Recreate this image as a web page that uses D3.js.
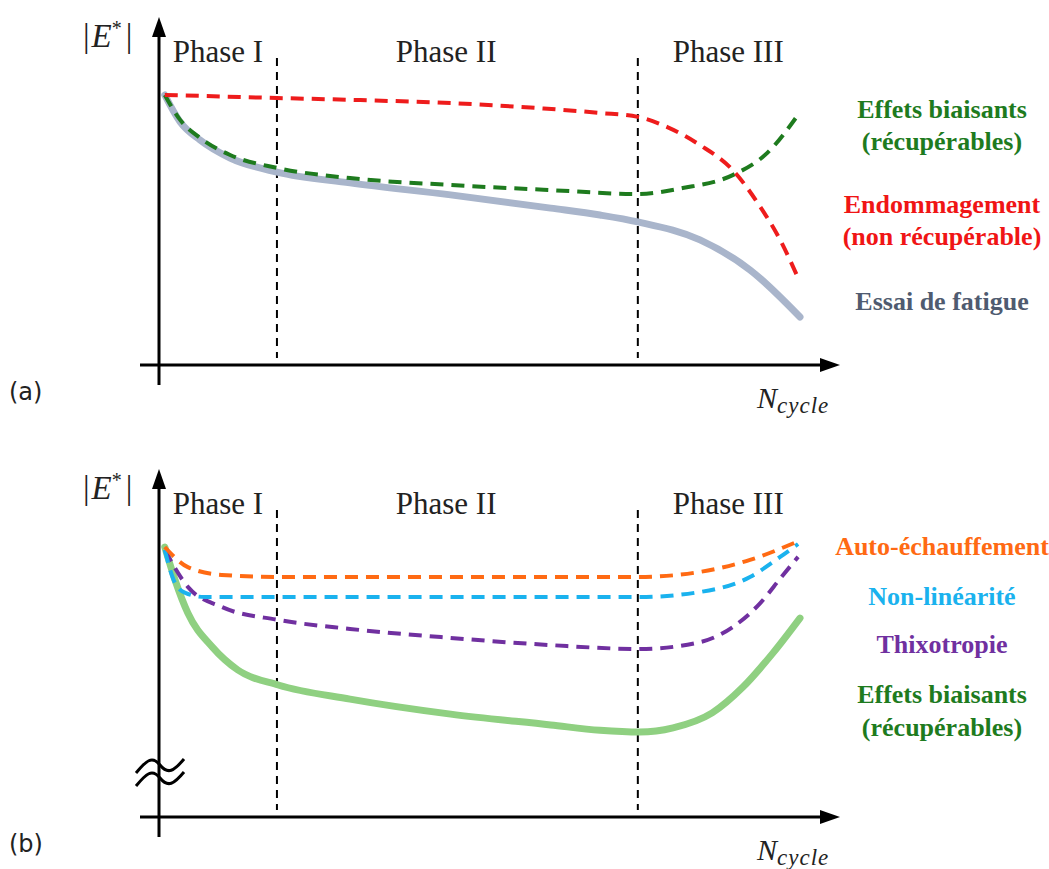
<!DOCTYPE html>
<html><head><meta charset="utf-8">
<script src="https://cdn.jsdelivr.net/npm/d3@7"></script>
<style>body{margin:0;background:#fff}svg{display:block}</style>
</head><body><svg id="c" width="1049" height="869"></svg>
<script>
// ---- data (x: normalised cycle count 0..100, y: normalised |E*| 0..100) ----
const phaseLabels = ["Phase I", "Phase II", "Phase III"];
const phaseBounds = [18.4, 74.7];
const phaseCenters = [9.2, 44.8, 88.8];

// panel (a)
const aDamageX = [0.9, 6.4, 18.4, 31.4, 45.5, 60, 68.8, 74.7, 79.3, 84.4, 89.5, 93.8, 96.9, 99.5];
const aDamageY = [90, 89.7, 89, 88.3, 87.3, 85.5, 84, 82.7, 79.3, 73.3, 65, 52.7, 41.7, 30];
const aBiasX = [0.9, 3.3, 6.4, 11.1, 18.4, 29.8, 45.5, 61.1, 74.7, 81.7, 89.5, 94.9, 100];
const aBiasY = [90, 81.7, 75.7, 70, 65.7, 62.3, 60, 58.3, 57, 59, 63.3, 70.7, 84.3];
const aFatigueX = [0.9, 3.3, 6.4, 11.1, 18.4, 29.8, 45.5, 61.1, 68.8, 74.7, 84.4, 92.2, 100];
const aFatigueY = [90, 81, 75, 69, 64.3, 60.7, 56.7, 52.3, 50, 47.7, 41.7, 31.7, 16];

// panel (b)
const bOrangeX = [0.9, 4.5, 9.8, 18.6, 74.7, 84.4, 92.2, 99.5];
const bOrangeY = [90, 83.3, 80.7, 80, 80, 81.7, 85.7, 91.7];
const bCyanX = [0.9, 2.5, 4.1, 7.2, 74.7, 84.4, 92.2, 96.9, 99.7];
const bCyanY = [89, 78, 74.7, 73.3, 73.3, 75, 80, 86.7, 91];
const bPurpleX = [0.9, 4.5, 9.8, 18.6, 29.8, 45.5, 61.1, 75, 84.4, 89.5, 93.8, 97.1, 99.7];
const bPurpleY = [89, 76.7, 70, 65.7, 62.7, 59.7, 57.3, 56, 58.3, 63.3, 71.3, 80, 86.7];
const bGreenX = [0.9, 2.5, 4.5, 8.3, 12.3, 18.6, 29.8, 45.5, 61.1, 68.8, 75, 80.2, 86.3, 91.1, 95.8, 100];
const bGreenY = [90, 79, 68, 56.7, 49, 44, 39.3, 34.3, 30.7, 28.9, 28.3, 29.7, 34.7, 43.3, 54.7, 66.3];

const aLegend = [
  {lines: ["Effets biaisants", "(récupérables)"], color: "#1e7b1e", y: [118, 150]},
  {lines: ["Endommagement", "(non récupérable)"], color: "#f01515", y: [213, 245]},
  {lines: ["Essai de fatigue"], color: "#4f5b70", y: [310]}
];
const bLegend = [
  {lines: ["Auto-échauffement"], color: "#ff6a13", y: [555]},
  {lines: ["Non-linéarité"], color: "#1ab2ee", y: [605]},
  {lines: ["Thixotropie"], color: "#7030a0", y: [653]},
  {lines: ["Effets biaisants", "(récupérables)"], color: "#1e7b1e", y: [703, 736]}
];

const svg = d3.select("#c");
const x = d3.scaleLinear().domain([0, 100]).range([159, 800]);
const serif = "'Liberation Serif','Times New Roman',serif";

function zip(xs, ys) { return xs.map((v, i) => [v, ys[i]]); }

function panel(y0, label, series, legend, breakMark) {
  const y = d3.scaleLinear().domain([0, 100]).range([y0, y0 - 300]);
  const g = svg.append("g");
  const line = d3.line().x(d => x(d[0])).y(d => y(d[1])).curve(d3.curveMonotoneX);

  phaseBounds.forEach(b => {
    g.append("line").attr("x1", x(b)).attr("x2", x(b))
      .attr("y1", y0 - 307).attr("y2", y0 - 7)
      .attr("stroke", "#000").attr("stroke-width", 2).attr("stroke-dasharray", "8,6");
  });
  phaseLabels.forEach((t, i) => {
    g.append("text").attr("x", x(phaseCenters[i])).attr("y", y0 - 303)
      .attr("text-anchor", "middle").attr("font-family", serif).attr("font-size", 31)
      .attr("fill", "#222").text(t);
  });

  series.forEach(s => {
    g.append("path").attr("d", line(zip(s.x, s.y))).attr("fill", "none")
      .attr("stroke", s.color).attr("stroke-width", s.w)
      .attr("stroke-dasharray", s.dash || null).attr("stroke-linecap", s.dash ? "butt" : "round");
  });

  g.append("line").attr("x1", 159).attr("x2", 159).attr("y1", y0 - 330).attr("y2", y0 + 20)
    .attr("stroke", "#000").attr("stroke-width", 3);
  g.append("path").attr("d", `M159,${y0 - 348} L152,${y0 - 328} L166,${y0 - 328} Z`).attr("fill", "#000");
  g.append("line").attr("x1", 140).attr("x2", 822).attr("y1", y0).attr("y2", y0)
    .attr("stroke", "#000").attr("stroke-width", 3);
  g.append("path").attr("d", `M840,${y0} L820,${y0 - 7} L820,${y0 + 7} Z`).attr("fill", "#000");

  const e = g.append("text").attr("x", 83).attr("y", y0 - 318).attr("font-family", serif)
    .attr("font-size", 33).attr("fill", "#222");
  e.append("tspan").text("|");
  e.append("tspan").attr("font-style", "italic").attr("dx", 2).text("E");
  e.append("tspan").attr("font-size", 20).attr("dy", -12).text("*");
  e.append("tspan").attr("dy", 12).attr("dx", 4).text("|");

  const n = g.append("text").attr("x", 757).attr("y", y0 + 43)
    .attr("font-family", serif).attr("font-style", "italic").attr("font-size", 30).attr("fill", "#222");
  n.append("tspan").text("N");
  n.append("tspan").attr("font-size", 23).attr("dy", 5).attr("letter-spacing", 1).text("cycle");

  g.append("text").attr("x", 9).attr("y", y0 + 35).attr("font-family", "'DejaVu Sans',sans-serif")
    .attr("font-size", 24).attr("fill", "#222").text(label);

  legend.forEach(l => {
    l.lines.forEach((t, i) => {
      g.append("text").attr("x", 942).attr("y", l.y[i])
        .attr("text-anchor", "middle").attr("font-family", serif).attr("font-weight", "bold")
        .attr("font-size", 26).attr("fill", l.color).text(t);
    });
  });

  if (breakMark) {
    [0, 13].forEach(dy => {
      const p = d3.path();
      p.moveTo(136, y0 - 44 + dy);
      p.bezierCurveTo(146, y0 - 56 + dy, 152, y0 - 62 + dy, 160, y0 - 52 + dy);
      p.bezierCurveTo(168, y0 - 42 + dy, 174, y0 - 46 + dy, 184, y0 - 58 + dy);
      g.append("path").attr("d", p.toString()).attr("fill", "none")
        .attr("stroke", "#000").attr("stroke-width", 3);
    });
  }
}

panel(365, "(a)", [
  {x: aFatigueX, y: aFatigueY, color: "#a9b5cb", w: 7},
  {x: aBiasX, y: aBiasY, color: "#1e7b1e", w: 4, dash: "13,8"},
  {x: aDamageX, y: aDamageY, color: "#ee1c1c", w: 4, dash: "13,8"}
], aLegend, false);

panel(817, "(b)", [
  {x: bGreenX, y: bGreenY, color: "#8fd081", w: 7},
  {x: bPurpleX, y: bPurpleY, color: "#7030a0", w: 4, dash: "13,8"},
  {x: bCyanX, y: bCyanY, color: "#1ab2ee", w: 4, dash: "13,8"},
  {x: bOrangeX, y: bOrangeY, color: "#ff6a13", w: 4, dash: "13,8"}
], bLegend, true);
</script></body></html>
